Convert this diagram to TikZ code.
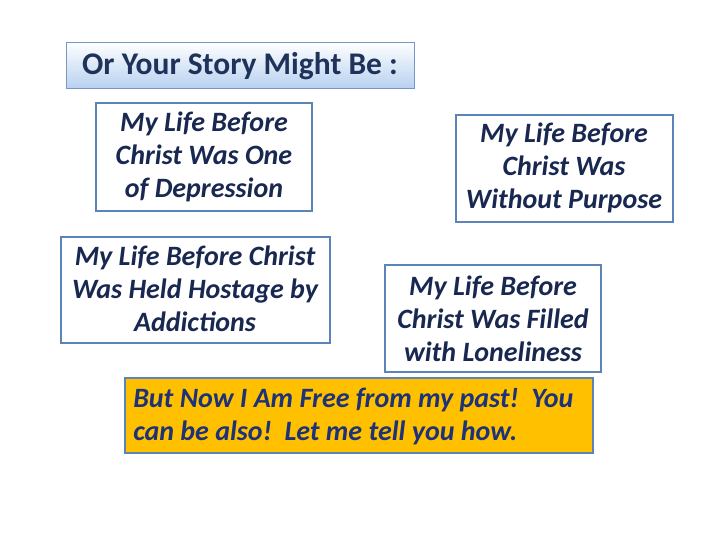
\documentclass[tikz,border=0pt]{standalone}
\usepackage{fontspec}
\setmainfont{Carlito}
\begin{document}
\begin{tikzpicture}[x=1pt,y=-1pt,
 box/.style={draw=bordc,line width=2.5pt,fill=white,align=center,font=\fontsize{28}{33}\selectfont\bfseries\itshape,inner sep=0pt,text={rgb,255:red,25;green,40;blue,80}},
]
\definecolor{bordc}{HTML}{5B84B8}
\useasboundingbox (0,0) rectangle (720,540);
\shade[top color=white,bottom color={rgb,255:red,184;green,209;blue,240},draw={rgb,255:red,120;green,150;blue,200},line width=0.8pt] (66,42) rectangle (414,88);
\node[font=\fontsize{31.5}{36}\selectfont\bfseries,text={rgb,255:red,30;green,50;blue,90},anchor=west,inner sep=0pt] (t) at (82,66) {Or Your Story Might Be :};
\draw[box] (96,103) rectangle (312,211);
\node[box,draw=none,fill=none] (a) at (204,157) {My Life Before\\Christ Was One\\of Depression};
\draw[box] (456,115) rectangle (673,222);
\node[box,draw=none,fill=none] (b) at (564,168) {My Life Before\\Christ Was\\Without Purpose};
\draw[box] (61,237) rectangle (330,343);
\node[box,draw=none,fill=none] (c) at (195,289) {My Life Before Christ\\Was Held Hostage by\\Addictions};
\draw[box] (385,265) rectangle (601,372);
\node[box,draw=none,fill=none] (d) at (493,319) {My Life Before\\Christ Was Filled\\with Loneliness};
\draw[draw=bordc,line width=2.5pt,fill={rgb,255:red,255;green,192;blue,0}] (125,378) rectangle (593,453);
\node[box,draw=none,fill=none,align=left,anchor=west,text={rgb,255:red,30;green,50;blue,120}] (e) at (132,416) {But Now I Am Free from my past!\ \ You\\can be also!\ \ Let me tell you how.};
\end{tikzpicture}
\end{document}
